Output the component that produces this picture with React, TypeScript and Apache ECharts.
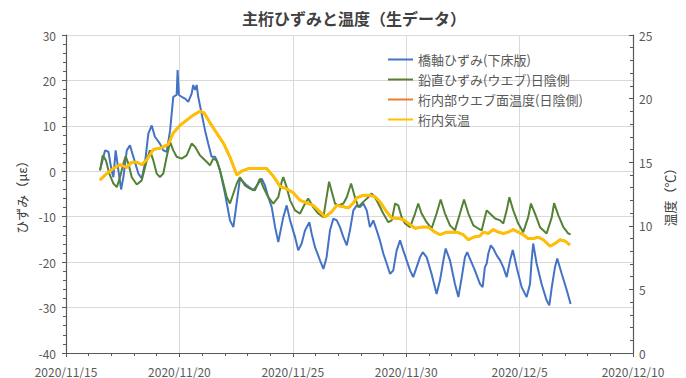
import { useEffect, useRef } from 'react';
import * as echarts from 'echarts';

// x values are day numbers counted from 2020/11/1 (32.5 = 12/2 12:00)
const dateTicks = ['2020/11/15', '2020/11/20', '2020/11/25', '2020/11/30', '2020/12/5', '2020/12/10'];

const seriesNames = ['橋軸ひずみ(下床版)', '鉛直ひずみ(ウエブ)日陰側', '桁内部ウエブ面温度(日陰側)', '桁内気温'];

// 橋軸ひずみ (με)
const bridgeAxisStrain: [number, number][] = [
  [16.50, 0.2], [16.72, 4.6], [16.87, 4.3], [17.01, 0.2], [17.09, -1.3], [17.19, 4.6], [17.31, 0.2], [17.43, -4.0],
  [17.53, -1.3], [17.68, 4.6], [17.82, 5.7], [17.97, 3.2], [18.19, -0.5], [18.34, -1.6], [18.48, 1.7], [18.63, 8.3],
  [18.78, 10.1], [18.92, 7.6], [19.14, 6.1], [19.29, 4.6], [19.44, 4.3], [19.59, 9.0], [19.73, 16.4], [19.88, 16.8],
  [19.92, 22.3], [19.98, 16.8], [20.10, 16.4], [20.25, 16.0], [20.39, 15.3], [20.54, 17.1], [20.61, 19.0], [20.69, 17.9],
  [20.76, 19.0], [20.83, 16.4], [20.98, 12.7], [21.13, 9.0], [21.27, 6.1], [21.42, 3.2], [21.57, 3.2], [21.67, 2.1],
  [21.79, 0.2], [22.01, -4.9], [22.23, -10.8], [22.38, -12.3], [22.60, -4.2], [22.67, -1.6], [22.97, -3.1], [23.26, -4.2],
  [23.48, -2.7], [23.63, -1.6], [23.77, -3.1], [23.92, -5.7], [24.07, -7.9], [24.22, -12.3], [24.36, -15.6], [24.58, -10.1],
  [24.73, -7.5], [24.88, -10.8], [25.10, -14.5], [25.24, -17.4], [25.39, -15.9], [25.54, -13.0], [25.73, -11.2], [25.83, -13.7],
  [25.98, -16.7], [26.20, -19.6], [26.35, -21.5], [26.49, -18.9], [26.64, -13.0], [26.79, -10.4], [26.94, -10.8], [27.08, -12.3],
  [27.23, -14.5], [27.38, -16.3], [27.52, -13.0], [27.67, -8.6], [27.82, -7.5], [27.96, -7.9], [28.11, -7.1], [28.26, -8.6],
  [28.40, -12.3], [28.55, -10.8], [28.70, -13.0], [28.84, -15.2], [28.99, -18.1], [29.14, -20.3], [29.29, -22.6], [29.43, -21.8],
  [29.58, -17.4], [29.73, -15.2], [29.87, -17.4], [30.02, -19.6], [30.17, -21.8], [30.31, -23.3], [30.46, -21.1], [30.61, -18.9],
  [30.73, -17.8], [30.90, -18.9], [31.12, -22.6], [31.34, -27.0], [31.49, -24.0], [31.64, -19.6], [31.74, -17.0], [31.93, -19.6],
  [32.15, -24.8], [32.30, -27.7], [32.45, -23.3], [32.59, -18.9], [32.69, -17.8], [32.78, -18.9], [33.03, -21.8], [33.25, -24.8],
  [33.37, -25.5], [33.47, -21.1], [33.55, -20.3], [33.62, -18.1], [33.73, -16.3], [33.84, -17.0], [33.99, -18.5], [34.14, -19.6],
  [34.28, -21.1], [34.43, -23.3], [34.58, -19.6], [34.70, -17.3], [34.87, -21.1], [35.09, -25.5], [35.31, -27.7], [35.46, -24.8],
  [35.53, -19.6], [35.60, -15.9], [35.75, -20.3], [35.97, -24.8], [36.19, -28.4], [36.31, -29.5], [36.42, -25.5], [36.56, -21.1],
  [36.66, -19.2], [36.86, -22.6], [37.08, -26.2], [37.25, -29.2],
];

// 鉛直ひずみ (με)
const verticalWebStrain: [number, number][] = [
  [16.50, 0.2], [16.62, 3.5], [16.76, 2.4], [16.91, -0.5], [17.09, -2.7], [17.24, -3.5], [17.38, -1.3], [17.53, 1.7],
  [17.63, 3.3], [17.75, 1.7], [17.90, -1.3], [18.12, -2.9], [18.34, -2.0], [18.56, 2.4], [18.70, 4.6], [18.85, 2.4],
  [19.00, -0.5], [19.14, -1.3], [19.29, -0.5], [19.44, 3.2], [19.59, 6.5], [19.73, 4.6], [19.88, 3.2], [20.10, 2.8],
  [20.32, 3.5], [20.54, 6.1], [20.69, 5.4], [20.91, 3.5], [21.05, 2.8], [21.20, 2.1], [21.35, 1.3], [21.49, 2.8],
  [21.64, 2.4], [21.79, 0.2], [21.94, -2.7], [22.09, -5.7], [22.23, -7.1], [22.38, -4.9], [22.53, -2.7], [22.67, -1.3],
  [22.89, -3.1], [23.11, -3.8], [23.33, -4.2], [23.55, -1.6], [23.70, -3.5], [23.92, -5.7], [24.14, -7.1], [24.36, -5.7],
  [24.51, -2.3], [24.58, -1.3], [24.73, -3.5], [24.88, -6.4], [25.10, -8.6], [25.32, -9.3], [25.54, -7.1], [25.68, -6.0],
  [25.90, -7.9], [26.12, -9.3], [26.35, -10.1], [26.49, -5.7], [26.60, -2.3], [26.86, -7.1], [27.01, -7.5], [27.23, -7.1],
  [27.38, -5.7], [27.57, -2.7], [27.74, -5.7], [27.89, -7.9], [28.04, -7.1], [28.18, -6.4], [28.33, -5.7], [28.48, -4.9],
  [28.62, -5.7], [28.77, -7.1], [28.99, -9.3], [29.21, -11.2], [29.36, -10.8], [29.51, -7.1], [29.65, -7.5], [29.80, -10.1],
  [29.95, -11.5], [30.17, -12.3], [30.39, -9.3], [30.53, -7.1], [30.68, -9.3], [30.90, -11.2], [31.12, -12.6], [31.34, -9.3],
  [31.52, -6.2], [31.71, -9.3], [31.93, -11.9], [32.15, -13.0], [32.37, -9.3], [32.55, -6.2], [32.74, -9.3], [32.96, -11.9],
  [33.18, -12.6], [33.33, -13.0], [33.47, -10.1], [33.55, -8.6], [33.69, -9.3], [33.92, -10.4], [34.14, -10.8], [34.28, -11.5],
  [34.43, -8.6], [34.55, -5.7], [34.72, -8.6], [34.94, -11.5], [35.16, -13.4], [35.38, -10.1], [35.50, -7.1], [35.68, -9.3],
  [35.90, -12.3], [36.19, -13.7], [36.42, -10.1], [36.52, -7.0], [36.71, -9.7], [36.93, -12.3], [37.15, -13.7], [37.25, -13.9],
];

// 桁内気温 (℃)
const airTemp: [number, number][] = [
  [16.50, 13.6], [16.79, 14.1], [17.09, 14.5], [17.38, 14.8], [17.68, 14.6], [17.90, 15.0], [18.12, 15.0], [18.34, 14.8],
  [18.56, 15.2], [18.85, 16.0], [19.14, 16.1], [19.51, 16.4], [19.73, 17.3], [20.03, 17.9], [20.32, 18.3], [20.61, 18.7],
  [20.91, 19.0], [21.08, 18.9], [21.35, 18.1], [21.64, 17.3], [21.94, 16.5], [22.23, 15.4], [22.53, 14.0], [22.75, 14.3],
  [23.04, 14.5], [23.41, 14.5], [23.85, 14.5], [24.14, 13.9], [24.44, 13.1], [24.73, 12.9], [25.02, 12.6], [25.32, 12.0],
  [25.61, 11.8], [25.90, 11.6], [26.20, 11.1], [26.42, 10.7], [26.71, 11.1], [26.94, 11.6], [27.23, 11.5], [27.45, 11.4],
  [27.67, 11.8], [27.82, 12.2], [28.11, 12.4], [28.40, 12.4], [28.62, 12.3], [28.84, 11.9], [29.14, 11.1], [29.36, 10.6],
  [29.58, 10.6], [29.87, 10.5], [30.09, 10.2], [30.39, 9.8], [30.68, 9.9], [30.97, 9.9], [31.27, 9.5], [31.49, 9.3],
  [31.79, 9.5], [32.01, 9.5], [32.23, 9.5], [32.52, 9.3], [32.74, 8.9], [32.96, 9.1], [33.25, 9.2], [33.40, 9.5],
  [33.62, 9.4], [33.84, 9.7], [34.06, 9.5], [34.28, 9.4], [34.50, 9.5], [34.72, 9.7], [34.94, 9.5], [35.16, 9.3],
  [35.38, 9.0], [35.60, 9.0], [35.82, 9.1], [36.05, 8.9], [36.34, 8.4], [36.56, 8.6], [36.78, 8.9], [37.00, 8.8],
  [37.22, 8.5],
];

// 桁内部ウエブ面温度 (℃): reads the same as the air sensor and sits underneath it
const webSurfaceTemp: [number, number][] = airTemp;

const FONT = "'Noto Sans CJK JP', 'Noto Sans', sans-serif";
const AXIS_COLOR = '#595959';
const LABEL_COLOR = '#595959';
const GRID_COLOR = '#d9d9d9';

function formatDate(v: number): string {
  const idx = Math.round((v - 15) / 5);
  return dateTicks[idx] ?? '';
}

export default function App() {
  const ref = useRef<HTMLDivElement>(null);

  useEffect(() => {
    if (!ref.current) return;
    const chart = echarts.init(ref.current, undefined, { renderer: 'svg' });
    chart.setOption({
      animation: false,
      backgroundColor: '#ffffff',
      textStyle: { fontFamily: FONT },
      title: {
        text: '主桁ひずみと温度（生データ）',
        left: 237,
        top: 5,
        textStyle: { fontFamily: FONT, fontSize: 16, fontWeight: 'bold', color: '#404040' },
      },
      legend: {
        orient: 'vertical',
        left: 383,
        top: 48,
        itemWidth: 25,
        itemHeight: 2,
        itemGap: 7,
        icon: 'rect',
        data: seriesNames,
        textStyle: { fontFamily: FONT, fontSize: 13, color: LABEL_COLOR },
      },
      grid: { left: 66, right: 53, top: 35, bottom: 25 },
      xAxis: {
        type: 'value',
        min: 15,
        max: 40,
        interval: 5,
        axisLine: { show: true, onZero: false, lineStyle: { color: AXIS_COLOR, width: 1.2 } },
        axisTick: { show: true, length: 4, lineStyle: { color: AXIS_COLOR } },
        minorTick: { show: true, splitNumber: 5, length: 3, lineStyle: { color: AXIS_COLOR } },
        splitLine: { show: true, lineStyle: { color: GRID_COLOR, width: 1 } },
        axisLabel: {
          formatter: formatDate,
          fontFamily: FONT,
          fontSize: 12,
          lineHeight: 12,
          color: LABEL_COLOR,
          margin: 12,
          showMinLabel: true,
          showMaxLabel: true,
        },
      },
      yAxis: [
        {
          type: 'value',
          min: -40,
          max: 30,
          interval: 10,
          name: 'ひずみ（με）',
          nameLocation: 'middle',
          nameRotate: 90,
          nameGap: 38,
          nameTextStyle: { fontFamily: FONT, fontSize: 13, color: '#404040' },
          axisLine: { show: true, onZero: false, lineStyle: { color: AXIS_COLOR, width: 1.2 } },
          axisTick: { show: true, length: 4, lineStyle: { color: AXIS_COLOR } },
          minorTick: { show: true, splitNumber: 5, length: 3, lineStyle: { color: AXIS_COLOR } },
          splitLine: { show: true, lineStyle: { color: GRID_COLOR, width: 1 } },
          axisLabel: { fontFamily: FONT, fontSize: 12, lineHeight: 11, color: LABEL_COLOR, margin: 10 },
        },
        {
          type: 'value',
          position: 'right',
          min: 0,
          max: 25,
          interval: 5,
          name: '温度（℃）',
          nameLocation: 'middle',
          nameRotate: 90,
          nameGap: 24,
          nameTextStyle: { fontFamily: FONT, fontSize: 13, color: '#404040' },
          axisLine: { show: true, onZero: false, lineStyle: { color: AXIS_COLOR, width: 1.2 } },
          axisTick: { show: true, inside: true, length: 4, lineStyle: { color: AXIS_COLOR } },
          minorTick: { show: true, splitNumber: 5, length: 3, lineStyle: { color: AXIS_COLOR } },
          splitLine: { show: false },
          axisLabel: { fontFamily: FONT, fontSize: 12, lineHeight: 11, color: LABEL_COLOR, margin: 6 },
        },
      ],
      series: [
        {
          name: seriesNames[0],
          type: 'line',
          yAxisIndex: 0,
          data: bridgeAxisStrain,
          showSymbol: false,
          symbol: 'none',
          color: '#4472C4',
          lineStyle: { color: '#4472C4', width: 2 },
        },
        {
          name: seriesNames[1],
          type: 'line',
          yAxisIndex: 0,
          data: verticalWebStrain,
          showSymbol: false,
          symbol: 'none',
          color: '#548235',
          lineStyle: { color: '#548235', width: 2 },
        },
        {
          name: seriesNames[2],
          type: 'line',
          yAxisIndex: 1,
          data: webSurfaceTemp,
          showSymbol: false,
          symbol: 'none',
          color: '#ED7D31',
          lineStyle: { color: '#ED7D31', width: 2.5 },
        },
        {
          name: seriesNames[3],
          type: 'line',
          yAxisIndex: 1,
          data: airTemp,
          showSymbol: false,
          symbol: 'none',
          color: '#FFC000',
          lineStyle: { color: '#FFC000', width: 2.8 },
        },
      ],
    });
    return () => chart.dispose();
  }, []);

  return (
    <div
      ref={ref}
      style={{ position: 'fixed', left: 0, top: 0, width: 686, height: 378, background: '#fff' }}
    />
  );
}
